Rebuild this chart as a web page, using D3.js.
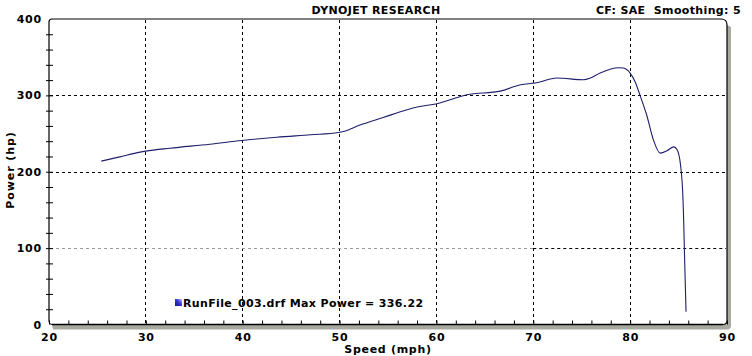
<!DOCTYPE html>
<html><head><meta charset="utf-8">
<script src="https://cdn.jsdelivr.net/npm/d3@7"></script>
<style>
html,body{margin:0;padding:0;background:#fff;}
svg{display:block;}
text{font-family:"DejaVu Sans",Verdana,sans-serif;font-weight:bold;font-size:11px;fill:#000;white-space:pre;letter-spacing:0.35px;}
.tl text{letter-spacing:0.8px;}
</style></head>
<body><svg id="c" width="752" height="356"></svg>
<script>
const speed = [25.4, 27.3, 29.4, 30.0, 32.5, 36.6, 39.9, 43.5, 47.0, 49.9, 50.4, 52.1, 54.5, 56.95, 58.0, 60.05, 63.15, 66.6, 68.7, 70.2, 72.45, 75.2, 75.9, 76.9, 78.8, 79.3, 80.0, 80.5, 81.0, 81.7, 82.4, 83.1, 83.8, 84.5, 84.85, 85.2, 85.46, 85.54, 85.6, 85.77];
const power = [213.9, 219.5, 225.7, 227.0, 230.8, 236.0, 240.9, 245.2, 248.4, 251.4, 252.7, 261.1, 271.0, 281.1, 284.7, 289.0, 300.8, 305.6, 313.9, 316.1, 322.7, 320.4, 322.7, 329.2, 336.2, 335.8, 329.2, 318.2, 300.8, 274.6, 241.8, 224.4, 227.4, 232.6, 228.7, 209.0, 163.2, 130.4, 97.6, 16.8];
const xTickLabels = [20, 30, 40, 50, 60, 70, 80, 90];
const yTickLabels = [0, 100, 200, 300, 400];
const title = "DYNOJET RESEARCH";
const info = "CF: SAE  Smoothing: 5";
const legendText = "RunFile_003.drf Max Power = 336.22";
const xTitle = "Speed (mph)";
const yTitle = "Power (hp)";

const svg = d3.select("#c");
const L = 49, R = 727, T = 19, B = 324.5;
const x = d3.scaleLinear().domain([20, 90]).range([L, R]);
const y = d3.scaleLinear().domain([0, 400]).range([B, T]);

// shadow
const shadowCol = "#a9a9a1";
svg.append("path").attr("fill", shadowCol)
  .attr("d", `M${R},${T+6} L${R+4},${T+8} L${R+4},${B+1} Q${R+4},${B+5} ${R},${B+5} L${L+4},${B+5} L${L+3},${B} L${R},${B} Z`);

// grid
const g = svg.append("g");
[30,40,50,60,70,80].forEach(v => {
  g.append("line").attr("x1", x(v)).attr("x2", x(v)).attr("y1", T+1).attr("y2", B-1)
    .attr("stroke", "#000").attr("stroke-dasharray", "3,3").attr("stroke-width", 1).attr("shape-rendering","crispEdges");
});
[200,300].forEach(v => {
  g.append("line").attr("x1", L+1).attr("x2", R-1).attr("y1", Math.round(y(v))+0.5).attr("y2", Math.round(y(v))+0.5)
    .attr("stroke", "#000").attr("stroke-dasharray", "3,3").attr("stroke-width", 1);
});
g.append("line").attr("x1", L+1).attr("x2", x(70)).attr("y1", Math.round(y(100))+0.5).attr("y2", Math.round(y(100))+0.5)
  .attr("stroke", "#9a9a9a").attr("stroke-dasharray", "3,3");
g.append("line").attr("x1", x(70)).attr("x2", R-1).attr("y1", Math.round(y(100))+0.5).attr("y2", Math.round(y(100))+0.5)
  .attr("stroke", "#000").attr("stroke-dasharray", "3,3");

// frame
svg.append("path").attr("fill", "none").attr("stroke", "#000").attr("stroke-width", 1.2)
  .attr("d", `M${L},${B-3} L${L},${T+3} Q${L},${T} ${L+3},${T} L${R-6},${T} Q${R},${T} ${R},${T+6} L${R},${B-4} Q${R},${B} ${R-4},${B}`);
svg.append("line").attr("x1", L+3).attr("x2", R-4).attr("y1", B).attr("y2", B)
  .attr("stroke", "#000").attr("stroke-width", 1.6);
svg.append("path").attr("fill","none").attr("stroke","#000").attr("stroke-width",1)
  .attr("d", `M${L},${B-3} Q${L},${B} ${L+3},${B}`);

// axes via d3
const xAxis = d3.axisTop(x).tickValues(d3.range(20, 91, 2)).tickSize(4).tickFormat("");
const xa = svg.append("g").attr("transform", `translate(0,${B})`).call(xAxis);
xa.select(".domain").remove();
xa.selectAll("line").attr("stroke", "#000");

const xl = svg.append("g").attr("class", "tl").attr("transform", `translate(0,${B})`)
  .call(d3.axisBottom(x).tickValues(xTickLabels).tickSize(0).tickPadding(8.5).tickFormat(d3.format("d")));
xl.select(".domain").remove();
xl.selectAll("text").attr("font-family", null).attr("font-size", null).attr("fill", "#000");

const yAxis = d3.axisRight(y).tickValues(d3.range(0, 401, 20)).tickSize(4).tickFormat("");
const ya = svg.append("g").attr("transform", `translate(${L},0)`).call(yAxis);
ya.select(".domain").remove();
ya.selectAll("line").attr("stroke", "#000").attr("x1", -3);

const yl = svg.append("g").attr("class", "tl").attr("transform", `translate(${L},0)`)
  .call(d3.axisLeft(y).tickValues(yTickLabels).tickSize(0).tickPadding(7).tickFormat(d3.format("d")));
yl.select(".domain").remove();
yl.selectAll("text").attr("font-family", null).attr("font-size", null)
  .attr("fill", d => d === 100 ? "#9a9a9a" : "#000");
ya.selectAll(".tick").filter(d => d === 0 || d === 400).remove();

// curve
const pts = speed.map((s, i) => [s, power[i]]);
svg.append("path").datum(pts).attr("fill", "none").attr("stroke", "#1e1e6c").attr("stroke-width", 1.1)
  .attr("d", d3.line().x(d => x(d[0])).y(d => y(d[1])).curve(d3.curveMonotoneX));

// texts
svg.append("text").attr("x", 376).attr("y", 14).attr("text-anchor", "middle").text(title);
svg.append("text").attr("x", 741).attr("y", 14).attr("text-anchor", "end").text(info);
svg.append("text").attr("x", 388).attr("y", 353).attr("text-anchor", "middle").style("letter-spacing", "0.7px").text(xTitle);
svg.append("text").attr("transform", "translate(14,170) rotate(-90)").attr("text-anchor", "middle").style("letter-spacing", "0.9px").text(yTitle);

// legend
const defs = svg.append("defs");
const gr = defs.append("linearGradient").attr("id", "lg").attr("x1", "0").attr("y1", "1").attr("x2", "1").attr("y2", "0");
gr.append("stop").attr("offset", "0").attr("stop-color", "#10108a");
gr.append("stop").attr("offset", "0.55").attr("stop-color", "#3a3ad0");
gr.append("stop").attr("offset", "1").attr("stop-color", "#c8c8ff");
svg.append("rect").attr("x", 175).attr("y", 299).attr("width", 7).attr("height", 7).attr("fill", "url(#lg)");
svg.append("text").attr("x", 183).attr("y", 306.5).text(legendText);
</script></body></html>
